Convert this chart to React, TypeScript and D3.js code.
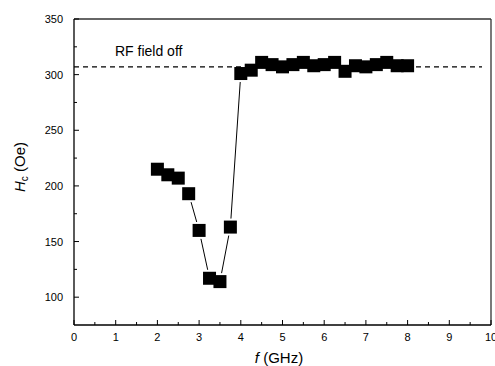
import React from "react";
import * as d3 from "d3";

const freqs = [2, 2.25, 2.5, 2.75, 3, 3.25, 3.5, 3.75, 4, 4.25, 4.5, 4.75, 5, 5.25, 5.5, 5.75, 6, 6.25, 6.5, 6.75, 7, 7.25, 7.5, 7.75, 8];
const hc = [215, 210, 207, 193, 160, 117, 114, 163, 301, 304, 311, 309, 307, 309, 311, 308, 309, 311, 303, 308, 307, 309, 311, 308, 308];
const rfOff = 307;
const xTicks = [0, 1, 2, 3, 4, 5, 6, 7, 8, 9, 10];
const yTicks = [100, 150, 200, 250, 300, 350];

const W = 495, H = 366;
const L = 74, R = 491, T = 19, B = 325;

export default function App() {
  const x = d3.scaleLinear().domain([0, 10]).range([L, R]);
  const y = d3.scaleLinear().domain([75, 350]).range([B, T]);
  const xMinor = d3.range(0.5, 10, 1);
  const yMinor = d3.range(75, 350, 50).filter((v) => v > 75);
  const sq = 13;
  const segs = [];
  for (let i = 0; i < freqs.length - 1; i++) {
    const x1 = x(freqs[i]), y1 = y(hc[i]), x2 = x(freqs[i + 1]), y2 = y(hc[i + 1]);
    const dx = x2 - x1, dy = y2 - y1;
    const len = Math.hypot(dx, dy);
    const ux = dx / len, uy = dy / len;
    const tEdge = (sq / 2) / Math.max(Math.abs(ux), Math.abs(uy)) + 2;
    if (len > 2 * tEdge) {
      segs.push([x1 + ux * tEdge, y1 + uy * tEdge, x2 - ux * tEdge, y2 - uy * tEdge]);
    }
  }
  const font = "Arial, 'Liberation Sans', sans-serif";
  return (
    <svg width={W} height={H} style={{ position: "absolute", left: 0, top: 0 }} fontFamily={font}>
      <rect width={W} height={H} fill="#fff" />
      <line x1={L} x2={R} y1={T} y2={T} stroke="#333" strokeWidth={1.3} />
      <line x1={R} x2={R} y1={T} y2={B} stroke="#333" strokeWidth={1.3} />
      <line x1={L} x2={L} y1={T} y2={B} stroke="#000" strokeWidth={1.3} />
      <line x1={L} x2={R} y1={B} y2={B} stroke="#000" strokeWidth={1.3} />
      {xTicks.map((t) => (
        <g key={"xt" + t}>
          <line x1={x(t)} x2={x(t)} y1={B} y2={B - 5} stroke="#000" strokeWidth={1} />
          <text x={x(t)} y={341} fontSize={11} textAnchor="middle" fill="#000">{t}</text>
        </g>
      ))}
      {xMinor.map((t) => (
        <line key={"xm" + t} x1={x(t)} x2={x(t)} y1={B} y2={B - 3} stroke="#000" strokeWidth={1} />
      ))}
      {yTicks.map((t) => (
        <g key={"yt" + t}>
          <line x1={L} x2={L + 5} y1={y(t)} y2={y(t)} stroke="#000" strokeWidth={1} />
          <text x={63} y={y(t) + 4} fontSize={11} textAnchor="end" fill="#000">{t}</text>
        </g>
      ))}
      {yMinor.map((t) => (
        <line key={"ym" + t} x1={L} x2={L + 3} y1={y(t)} y2={y(t)} stroke="#000" strokeWidth={1} />
      ))}
      <line x1={L} x2={482} y1={y(rfOff)} y2={y(rfOff)} stroke="#000" strokeWidth={1.3} strokeDasharray="5,4" />
      <text x={115} y={56} fontSize={14} fill="#000">RF field off</text>
      {segs.map((s, i) => (
        <line key={"s" + i} x1={s[0]} y1={s[1]} x2={s[2]} y2={s[3]} stroke="#000" strokeWidth={1} />
      ))}
      {freqs.map((f, i) => (
        <rect key={"p" + i} x={x(f) - sq / 2} y={y(hc[i]) - sq / 2} width={sq} height={sq} fill="#000" />
      ))}
      <text x={279} y={363} fontSize={15} textAnchor="middle" fill="#000">
        <tspan fontStyle="italic">f</tspan> (GHz)
      </text>
      <text transform={`translate(25,167) rotate(-90)`} fontSize={15} textAnchor="middle" fill="#000">
        <tspan fontStyle="italic">H</tspan>
        <tspan fontSize={10} dy={3}>c</tspan>
        <tspan dy={-3}> (Oe)</tspan>
      </text>
    </svg>
  );
}
